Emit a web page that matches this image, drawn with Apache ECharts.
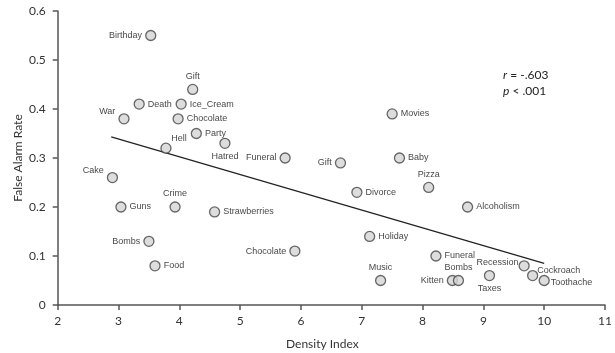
<!DOCTYPE html>
<html><head><meta charset="utf-8">
<script src="https://cdn.jsdelivr.net/npm/echarts@6/dist/echarts.min.js"></script>
<style>html,body{margin:0;padding:0;background:#fff}#c{width:615px;height:353px}</style>
</head><body><div id="c"></div>
<script>
// ---- data ----
var words = ['Birthday','Gift','Death','Ice_Cream','War','Chocolate','Party','Hell','Hatred','Funeral','Cake','Guns','Crime','Strawberries','Bombs','Food','Chocolate','Movies','Baby','Gift','Pizza','Divorce','Alcoholism','Holiday','Funeral','Music','Kitten','Bombs','Taxes','Recession','Cockroach','Toothache'];
var densityIndex = [3.53,4.22,3.34,4.03,3.09,3.98,4.28,3.78,4.75,5.74,2.90,3.04,3.93,4.58,3.50,3.60,5.90,7.50,7.62,6.65,8.10,6.92,8.74,7.13,8.22,7.31,8.49,8.59,9.10,9.67,9.81,10.00];
var falseAlarmRate = [0.55,0.44,0.41,0.41,0.38,0.38,0.35,0.32,0.33,0.30,0.26,0.20,0.20,0.19,0.13,0.08,0.11,0.39,0.30,0.29,0.24,0.23,0.20,0.14,0.10,0.05,0.05,0.05,0.06,0.08,0.06,0.05];
var trendX = [2.88, 10.0];
var trendY = [0.343, 0.085];
var xTicks = [2,3,4,5,6,7,8,9,10,11];
var yTicks = [0,0.1,0.2,0.3,0.4,0.5,0.6];

// ---- label placement (style) ----
var placement = ['left','top','right','right','upleft','right','right','upright','bottom','left','upleft','right','top','right','left','right','left','right','right','left','top','right','right','right','right','top','left','top','bottom','recession','cockroach','toothache'];
function labelFor(p){
  var base = {show:true, fontFamily:'Liberation Sans, Arial, sans-serif', fontSize:9, color:'#111', distance:3};
  if(p==='upleft'){ base.position='left'; base.offset=[0,-7]; }
  else if(p==='upright'){ base.position='top'; base.offset=[13,3]; }
  else if(p==='recession'){ base.position='left'; base.distance=0; base.offset=[0,-3]; }
  else if(p==='cockroach'){ base.position='right'; base.offset=[-4,-5]; }
  else if(p==='toothache'){ base.position='right'; base.distance=1; base.offset=[0,2]; }
  else { base.position=p; }
  return base;
}
var pts = words.map(function(w,i){
  return {name:w, value:[densityIndex[i], falseAlarmRate[i]], label:labelFor(placement[i])};
});

var chart = echarts.init(document.getElementById('c'), null, {renderer:'canvas'});
var axisFont = 'Lato, Calibri, sans-serif';
chart.setOption({
  animation:false,
  grid:{left:57.7, right:10, top:11, bottom:48, containLabel:false, outerBoundsMode:'none'},
  xAxis:{type:'value', min:xTicks[0], max:xTicks[xTicks.length-1], interval:1,
    name:'Density Index', nameLocation:'middle', nameGap:33, nameMoveOverlap:false,
    nameTextStyle:{fontFamily:axisFont, fontSize:12, color:'#333', padding:[0,18,0,0]},
    axisLine:{show:true, lineStyle:{color:'#555', width:1.5}},
    axisTick:{show:true, length:5, lineStyle:{color:'#555', width:1.5}},
    axisLabel:{fontFamily:axisFont, fontSize:12, color:'#333', margin:10},
    splitLine:{show:false}},
  yAxis:{type:'value', min:yTicks[0], max:yTicks[yTicks.length-1], interval:0.1,
    name:'False Alarm Rate', nameLocation:'middle', nameGap:34, nameRotate:90, nameMoveOverlap:false,
    nameTextStyle:{fontFamily:axisFont, fontSize:12, color:'#333'},
    axisLine:{show:true, lineStyle:{color:'#555', width:1.5}},
    axisTick:{show:true, length:5, lineStyle:{color:'#555', width:1.5}},
    axisLabel:{fontFamily:axisFont, fontSize:12, color:'#333', margin:12,
      formatter:function(v){return v===0?'0':String(Math.round(v*10)/10);}},
    splitLine:{show:false}},
  series:[
    {type:'line', data:[[trendX[0],trendY[0]],[trendX[1],trendY[1]]], symbol:'none',
     lineStyle:{color:'#222', width:1.2}, silent:true, z:1},
    {type:'scatter', data:pts, symbol:'circle', symbolSize:10,
     itemStyle:{color:'#d4d4d4', borderColor:'#444', borderWidth:1.3}, z:2,
     label:{formatter:'{b}'}}
  ],
  graphic:[{type:'text', left:503, top:67, style:{
    rich:{i:{fontFamily:axisFont, fontStyle:'italic', fontSize:12, fill:'#222'}, n:{fontFamily:axisFont, fontSize:12, fill:'#222'}},
    text:'{i|r}{n| = -.603}\n{i|p}{n| < .001}', lineHeight:16, fill:'#222', font:'12px Lato'}}]
});
</script></body></html>
